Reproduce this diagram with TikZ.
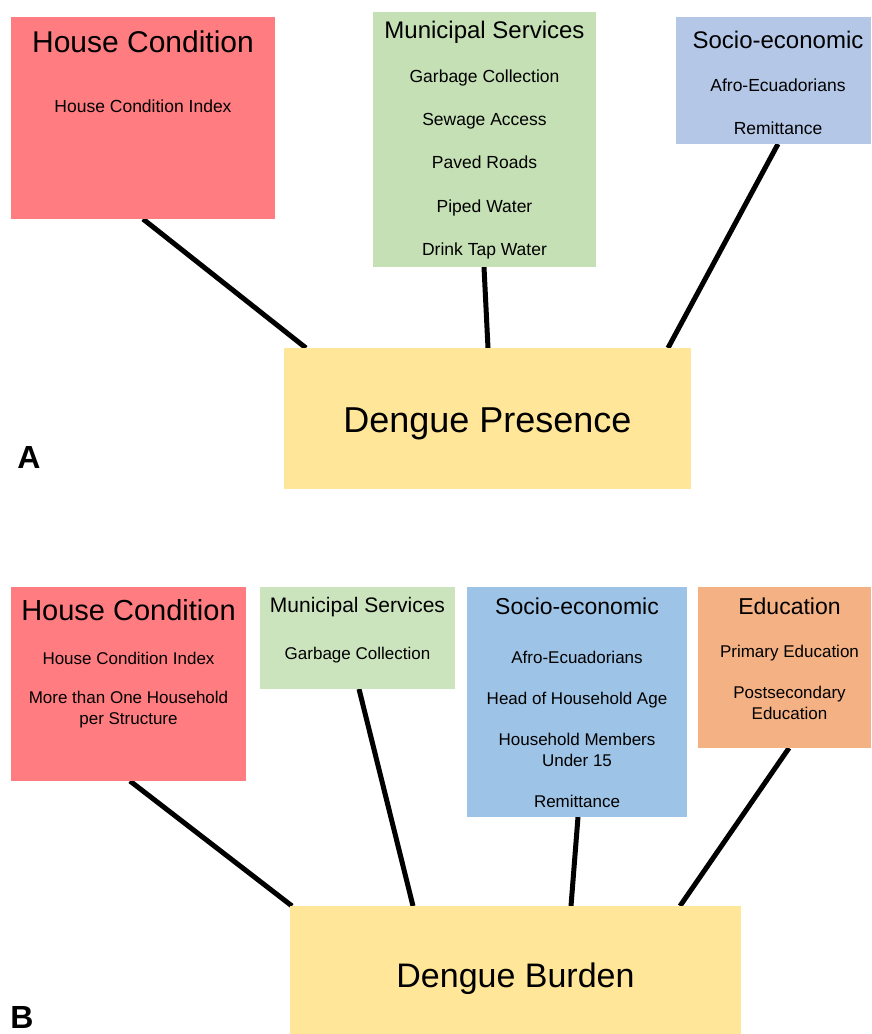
\documentclass[tikz,border=0pt]{standalone}
\usepackage{fontspec}
\setmainfont{Liberation Sans}
\pgfdeclarelayer{background}
\pgfsetlayers{background,main}
\definecolor{hcred}{RGB}{255,124,128}
\definecolor{msgreenA}{RGB}{197,224,180}
\definecolor{msgreenB}{RGB}{204,228,190}
\definecolor{seblueA}{RGB}{180,199,231}
\definecolor{seblueB}{RGB}{157,195,230}
\definecolor{edorange}{RGB}{244,177,131}
\definecolor{dyellow}{RGB}{255,230,153}
\tikzset{
  box/.style={inner sep=0pt, outer sep=0pt, anchor=north west, draw=none},
  txt/.style={anchor=base, inner sep=0pt, outer sep=0pt},
  itmA/.style={txt, font=\fontsize{17.5}{21}\selectfont},
  itmB/.style={txt, font=\fontsize{17}{21}\selectfont},
  link/.style={line width=5pt, black},
  panel/.style={txt, font=\fontsize{32}{36}\selectfont\bfseries}
}
\begin{document}
\begin{tikzpicture}[x=1pt,y=-1pt]
\useasboundingbox (0,0) rectangle (871,1034);
% ---------- Panel A ----------
\node[box, fill=hcred, minimum width=264pt, minimum height=202pt] (hcA) at (11,17) {};
\node[box, fill=msgreenA, minimum width=223pt, minimum height=255pt] (msA) at (373,12) {};
\node[box, fill=seblueA, minimum width=195pt, minimum height=127pt] (seA) at (676,17) {};
\node[box, fill=dyellow, minimum width=407pt, minimum height=141pt] (dpA) at (284,348) {};

\node[txt, font=\fontsize{30}{34}\selectfont] (hcAt) at (143,52) {House Condition};
\node[itmA] (hcA1) at (143,112) {House Condition Index};

\node[txt, font=\fontsize{24}{28}\selectfont] (msAt) at (484.5,38) {Municipal Services};
\node[itmA] (msA1) at (484.5,82) {Garbage Collection};
\node[itmA] (msA2) at (484.5,125) {Sewage Access};
\node[itmA] (msA3) at (484.5,168) {Paved Roads};
\node[itmA] (msA4) at (484.5,212) {Piped Water};
\node[itmA] (msA5) at (484.5,255) {Drink Tap Water};

\node[txt, font=\fontsize{24}{28}\selectfont] (seAt) at (778,48) {Socio-economic};
\node[itmA] (seA1) at (778,91) {Afro-Ecuadorians};
\node[itmA] (seA2) at (778,134) {Remittance};

\node[txt, font=\fontsize{36}{40}\selectfont] (dpAt) at (487.5,432) {Dengue Presence};
\node[panel] (labA) at (29,468) {A};

\begin{pgfonlayer}{background}
\draw[link] ([xshift=132pt]hcA.south west) -- ([xshift=22pt]dpA.north west);
\draw[link] ([xshift=111pt]msA.south west) -- ([xshift=204pt]dpA.north west);
\draw[link] ([xshift=102pt]seA.south west) -- ([xshift=384pt]dpA.north west);
\end{pgfonlayer}

% ---------- Panel B ----------
\node[box, fill=hcred, minimum width=235pt, minimum height=194pt] (hcB) at (11,587) {};
\node[box, fill=msgreenB, minimum width=195pt, minimum height=102pt] (msB) at (260,587) {};
\node[box, fill=seblueB, minimum width=220pt, minimum height=230pt] (seB) at (467,587) {};
\node[box, fill=edorange, minimum width=173pt, minimum height=161pt] (edB) at (698,587) {};
\node[box, fill=dyellow, minimum width=451pt, minimum height=128pt] (dbB) at (290,906) {};

\node[txt, font=\fontsize{29}{33}\selectfont] (hcBt) at (128.5,620) {House Condition};
\node[itmB] (hcB1) at (128.5,664) {House Condition Index};
\node[itmB] (hcB2) at (128.5,703) {More than One Household};
\node[itmB] (hcB3) at (128.5,724) {per Structure};

\node[txt, font=\fontsize{21}{25}\selectfont] (msBt) at (357.5,612) {Municipal Services};
\node[itmB] (msB1) at (357.5,659) {Garbage Collection};

\node[txt, font=\fontsize{23}{27}\selectfont] (seBt) at (577,614) {Socio-economic};
\node[itmB] (seB1) at (577,663) {Afro-Ecuadorians};
\node[itmB] (seB2) at (577,704) {Head of Household Age};
\node[itmB] (seB3) at (577,745) {Household Members};
\node[itmB] (seB4) at (577,766) {Under 15};
\node[itmB] (seB5) at (577,807) {Remittance};

\node[txt, font=\fontsize{23}{27}\selectfont] (edBt) at (789.5,614) {Education};
\node[itmB] (edB1) at (789.5,657) {Primary Education};
\node[itmB] (edB2) at (789.5,698) {Postsecondary};
\node[itmB] (edB3) at (789.5,719) {Education};

\node[txt, font=\fontsize{34}{38}\selectfont] (dbBt) at (515.5,987) {Dengue Burden};
\node[panel] (labB) at (22,1028) {B};

\begin{pgfonlayer}{background}
\draw[link] ([xshift=119pt]hcB.south west) -- ([xshift=2pt]dbB.north west);
\draw[link] ([xshift=99pt]msB.south west) -- ([xshift=123pt]dbB.north west);
\draw[link] ([xshift=111pt]seB.south west) -- ([xshift=281pt]dbB.north west);
\draw[link] ([xshift=91pt]edB.south west) -- ([xshift=390pt]dbB.north west);
\end{pgfonlayer}
\end{tikzpicture}
\end{document}
